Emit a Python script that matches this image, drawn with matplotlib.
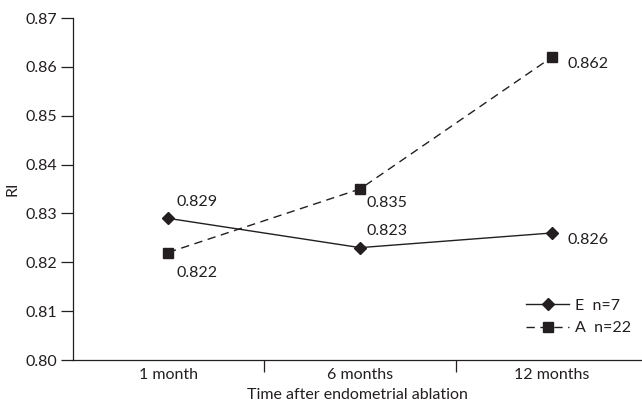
import matplotlib
matplotlib.use('Agg')
import matplotlib.pyplot as plt
from matplotlib.ticker import FixedLocator, FormatStrFormatter

# data
categories = ['1 month', '6 months', '12 months']
e_values = [0.829, 0.823, 0.826]
a_values = [0.822, 0.835, 0.862]
e_label = 'E  n=7'
a_label = 'A  n=22'

ink = '#231f20'
fs = 11.5
plt.rcParams['font.family'] = ['Lato', 'DejaVu Sans']
plt.rcParams['lines.scale_dashes'] = False

fig = plt.figure(figsize=(6.42, 4.07), dpi=100)
ax = fig.add_axes([73 / 642, 47 / 407, 1 - 73 / 642, 342 / 407])

x = list(range(len(categories)))
ax.plot(x, e_values, color=ink, lw=1.0, marker='D', ms=6, label=e_label)
ax.plot(x, a_values, color=ink, lw=1.0, marker='s', ms=6.5, dashes=(6, 4), label=a_label)

# value labels: (dx, dy) offsets in points
offsets_e = [(6, 12), (5, 12), (11, -5)]
offsets_a = [(6, -15), (5, -10), (11, -5)]
for vals, offs in ((e_values, offsets_e), (a_values, offsets_a)):
    for xi, v, off in zip(x, vals, offs):
        ax.annotate('%.3f' % v, (xi, v), xytext=off, textcoords='offset points',
                    ha='left', va='center', fontsize=fs, color=ink)

ax.set_ylim(0.80, 0.87)
ax.set_xlim(-0.495, -0.495 + 569 / 192)
ax.yaxis.set_major_locator(FixedLocator([0.80, 0.81, 0.82, 0.83, 0.84, 0.85, 0.86, 0.87]))
ax.yaxis.set_major_formatter(FormatStrFormatter('%.2f'))
ax.set_xticks(x)
ax.set_xticklabels(categories)
ax.xaxis.set_minor_locator(FixedLocator([-0.5, 0.5, 1.5, 2.5]))
ax.tick_params(axis='x', which='major', length=0, pad=6, labelsize=fs, colors=ink)
ax.tick_params(axis='x', which='minor', length=8.5, width=0.9, direction='out', color=ink)
ax.tick_params(axis='y', length=8.5, width=0.9, pad=3, labelsize=fs, colors=ink)

for side in ('top', 'right'):
    ax.spines[side].set_visible(False)
for side in ('left', 'bottom'):
    ax.spines[side].set_linewidth(0.9)
    ax.spines[side].set_color(ink)

ax.set_ylabel('RI', fontsize=fs, color=ink, labelpad=4)
ax.set_xlabel('Time after endometrial ablation', fontsize=fs, color=ink, labelpad=4)

ax.legend(loc='lower right', bbox_to_anchor=(1.0, 0.04), frameon=False, fontsize=fs,
          handlelength=2.7, handletextpad=0.35, labelspacing=0.5, borderaxespad=0.3,
          labelcolor=ink)

fig.savefig('out.png', dpi=100)
